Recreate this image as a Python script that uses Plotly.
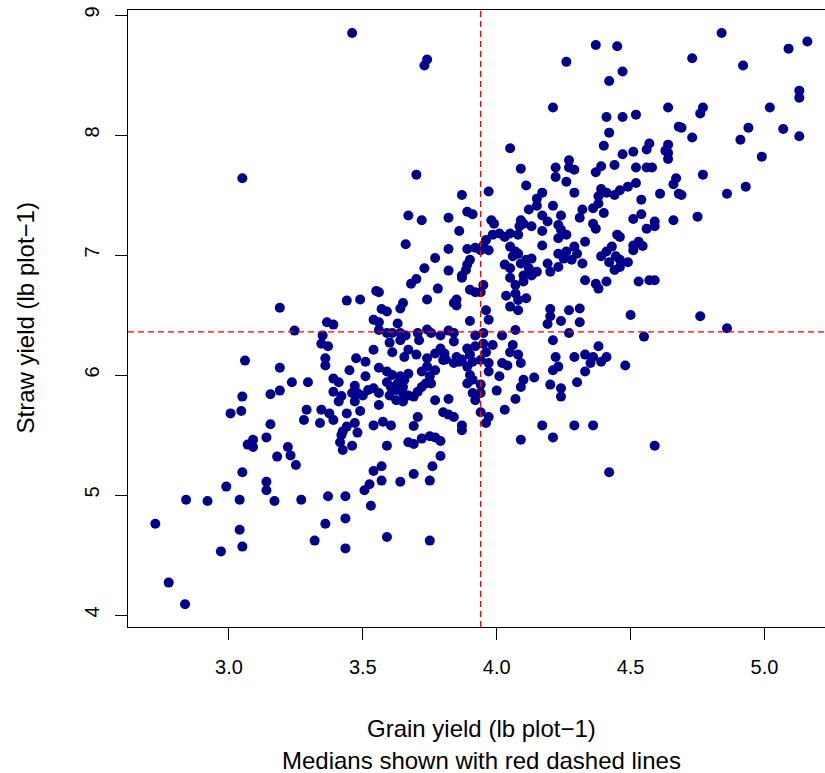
import plotly.graph_objects as go

# Grain yield (lb plot-1) and straw yield (lb plot-1)
grain = [
    3.05,
    3.46, 3.74, 3.73, 3.70, 3.87, 3.67, 3.72, 3.82, 3.89, 3.91,
    4.37, 4.45, 4.26, 4.47, 4.42, 4.21, 4.41, 4.47, 4.52, 4.42, 4.05, 4.40, 4.47, 4.51, 4.56, 4.57,
    4.09, 4.27, 4.22, 4.27, 4.29, 4.22, 4.39, 4.37, 4.44, 4.52, 4.56, 4.58, 4.11, 3.97, 4.26, 4.29,
    4.17, 4.15, 4.15, 4.21, 4.12, 4.39, 4.41, 4.44, 4.46, 4.49, 4.52, 4.38, 4.38, 4.36, 4.40, 4.54,
    4.32, 4.31, 4.17, 4.24, 4.09, 3.98, 4.54, 4.51,
    4.84, 5.16, 5.09, 4.73, 4.92, 5.13, 5.13, 4.64, 4.77, 4.76, 5.02, 4.68, 4.69, 4.94, 5.07, 4.73,
    4.91, 5.13, 4.64, 4.63, 4.64, 4.64, 4.99, 4.67, 4.66, 4.77, 4.61, 4.68, 4.69, 4.86, 4.93, 4.75, 4.66,
    4.59, 4.59, 4.59, 4.76, 4.86,
    4.59, 4.09, 4.21, 4.42,
    3.09, 3.07, 3.09, 3.14, 3.22, 3.23, 3.18, 3.25, 3.05, 2.99, 3.14, 3.14, 2.84, 2.92, 3.04, 3.17,
    3.27, 2.725, 3.04, 3.05, 2.97, 2.775, 2.836,
    3.425, 3.42, 3.415, 3.425, 3.46, 3.48, 3.59, 3.67, 3.69, 3.72, 3.75, 3.77, 3.79, 3.79, 3.76, 3.54,
    3.57, 3.57, 3.64, 3.69, 3.75, 3.525, 3.506, 3.37, 3.435, 3.53, 3.435, 3.36, 3.32, 3.435, 3.59, 3.75, 3.87,
    3.19, 3.245, 3.06, 3.19, 3.235, 3.05, 3.155, 3.19, 3.006, 3.046, 3.155,
    # dense middle-left block
    3.86, 3.66, 3.89, 3.92, 3.82, 3.77, 3.90, 3.89, 3.885, 3.87, 3.87, 3.73, 3.82, 3.70, 3.68, 3.78,
    3.90, 3.92, 3.55, 3.56, 3.44, 3.49, 3.74, 3.85, 3.84, 3.85, 3.65, 3.64, 3.57, 3.59, 3.54, 3.56,
    3.366, 3.39, 3.63, 3.90, 3.56, 3.59, 3.61, 3.64, 3.66, 3.705, 3.74, 3.755, 3.79, 3.82, 3.84, 3.92,
    3.35, 3.345, 3.37, 3.60, 3.64, 3.71, 3.84, 3.54, 3.61, 3.67, 3.655, 3.70, 3.74, 3.77, 3.79, 3.805,
    3.80, 3.85, 3.87, 3.90, 3.91, 3.89, 3.92, 3.36, 3.36, 3.475, 3.51, 3.45, 3.51, 3.56, 3.59, 3.61,
    3.64, 3.655, 3.67, 3.72, 3.74, 3.77, 3.75, 3.81, 3.84, 3.86, 3.89, 3.90, 3.91, 3.89, 3.295, 3.39,
    3.41, 3.39, 3.42, 3.41, 3.47, 3.46, 3.48, 3.50, 3.47, 3.52, 3.54, 3.56, 3.59, 3.605, 3.63, 3.65,
    3.625, 3.65, 3.67, 3.69, 3.705, 3.72, 3.735, 3.755, 3.60, 3.625, 3.65, 3.77, 3.82, 3.56, 3.29, 3.28,
    3.345, 3.375, 3.39, 3.44, 3.49, 3.34, 3.44, 3.47, 3.54, 3.575, 3.605, 3.69, 3.705, 3.80, 3.82, 3.84,
    3.87, 3.91, 3.92,
    # dense middle-right block
    3.99, 3.96, 3.985, 4.01, 4.03, 3.95, 3.94, 3.97, 4.05, 4.08, 4.085, 4.10, 4.13, 4.17, 4.19, 4.23,
    4.24, 4.23, 4.26, 4.33, 4.36, 4.37, 4.45, 4.46, 4.51, 4.53, 4.545, 4.51, 4.56, 4.17, 4.05, 4.07,
    4.08, 4.06, 4.03, 4.05, 4.09, 4.11, 4.13, 4.12, 4.15, 4.13, 4.10, 4.05, 4.07, 4.10, 4.07, 4.035,
    4.11, 4.08, 4.19, 4.20, 4.23, 4.23, 4.26, 4.29, 4.30, 4.32, 4.28, 4.25, 4.39, 4.42, 4.41, 4.43,
    4.445, 4.46, 4.49, 4.44, 4.46, 4.33, 4.37, 4.38, 4.41, 4.53, 4.57, 3.95, 3.94, 4.05, 4.08, 3.96,
    3.97, 4.20, 4.20, 4.19, 4.24, 4.27, 4.31, 4.31, 4.50, 4.27, 3.95, 4.02, 4.07, 4.55, 4.21, 3.95,
    3.985, 3.96, 3.94, 4.06, 4.05, 4.08, 4.09, 4.02, 4.04, 3.97, 3.97, 4.38, 4.29, 4.33, 4.36, 4.41,
    4.39, 4.22, 4.23, 4.21, 4.35, 4.33, 4.48, 4.01, 3.94, 3.94, 4.14, 4.10, 4.09, 4.20, 4.24, 4.24,
    4.30, 4.00, 4.07, 4.03, 3.94, 3.97, 3.96, 4.17, 4.29, 4.36,
]
straw = [
    7.64,
    8.85, 8.63, 8.58, 7.67, 7.50, 7.33, 7.29, 7.31, 7.36, 7.34,
    8.75, 8.74, 8.61, 8.53, 8.45, 8.23, 8.15, 8.15, 8.17, 8.02, 7.89, 7.91, 7.84, 7.86, 7.88, 7.93,
    7.72, 7.79, 7.73, 7.73, 7.71, 7.65, 7.74, 7.69, 7.75, 7.73, 7.73, 7.73, 7.58, 7.53, 7.61, 7.52,
    7.52, 7.47, 7.41, 7.41, 7.38, 7.55, 7.52, 7.50, 7.54, 7.57, 7.60, 7.49, 7.43, 7.39, 7.35, 7.46,
    7.38, 7.31, 7.33, 7.33, 7.29, 7.29, 7.34, 7.30,
    8.85, 8.78, 8.72, 8.64, 8.58, 8.37, 8.31, 8.23, 8.23, 8.18, 8.23, 8.07, 8.06, 8.06, 8.05, 7.98,
    7.96, 7.99, 7.92, 7.87, 7.85, 7.80, 7.82, 7.64, 7.59, 7.67, 7.51, 7.51, 7.50, 7.51, 7.57, 7.32, 7.29,
    7.24, 7.28, 6.79, 6.49, 6.39,
    5.41, 5.46, 5.48, 5.19,
    5.46, 5.42, 5.40, 5.48, 5.40, 5.33, 5.32, 5.25, 5.19, 5.07, 5.11, 5.04, 4.96, 4.95, 4.96, 4.95,
    4.96, 4.76, 4.71, 4.57, 4.53, 4.27, 4.09,
    5.53, 5.50, 5.44, 5.375, 5.41, 5.52, 5.41, 5.44, 5.425, 5.47, 5.49, 5.48, 5.45, 5.325, 5.24, 5.20,
    5.24, 5.12, 5.11, 5.175, 5.12, 5.09, 5.04, 4.99, 4.99, 4.91, 4.805, 4.76, 4.62, 4.555, 4.65, 4.62, 5.54,
    6.56, 6.37, 6.12, 6.06, 5.94, 5.82, 5.84, 5.87, 5.68, 5.70, 5.59,
    # dense middle-left block
    7.20, 7.09, 7.05, 7.06, 7.05, 6.975, 6.96, 6.92, 6.875, 6.83, 6.81, 6.89, 6.87, 6.80, 6.76, 6.72,
    6.71, 6.69, 6.70, 6.69, 6.62, 6.63, 6.63, 6.63, 6.60, 6.58, 6.60, 6.555, 6.55, 6.53, 6.46, 6.44,
    6.44, 6.42, 6.43, 6.45, 6.375, 6.35, 6.35, 6.35, 6.33, 6.35, 6.38, 6.35, 6.33, 6.37, 6.35, 6.33,
    6.33, 6.26, 6.24, 6.27, 6.29, 6.29, 6.28, 6.21, 6.19, 6.21, 6.15, 6.17, 6.14, 6.18, 6.22, 6.18,
    6.125, 6.15, 6.13, 6.17, 6.11, 6.22, 6.24, 6.14, 6.08, 6.14, 6.11, 6.04, 5.99, 6.06, 6.03, 6.00,
    5.99, 5.96, 6.01, 6.03, 6.07, 6.04, 5.99, 6.13, 6.10, 6.11, 6.07, 6.00, 5.96, 5.93, 5.94, 5.97,
    5.94, 5.86, 5.825, 5.78, 5.91, 5.85, 5.85, 5.83, 5.78, 5.875, 5.89, 5.85, 5.94, 5.90, 5.93, 5.90,
    5.875, 5.85, 5.83, 5.82, 5.86, 5.90, 5.93, 5.93, 5.83, 5.79, 5.78, 5.79, 5.80, 5.75, 5.71, 5.625,
    5.71, 5.68, 5.625, 5.68, 5.70, 5.60, 5.57, 5.60, 5.58, 5.61, 5.58, 5.575, 5.65, 5.69, 5.67, 5.65,
    5.58, 5.85, 5.79,
    # dense middle-right block
    7.26, 7.125, 7.17, 7.18, 7.15, 7.08, 7.04, 7.04, 7.18, 7.17, 7.24, 7.26, 7.24, 7.20, 7.28, 7.25,
    7.21, 7.14, 7.17, 7.11, 7.26, 7.22, 7.17, 7.15, 7.08, 7.11, 7.075, 7.04, 7.22, 7.08, 7.07, 7.03,
    7.01, 6.99, 6.92, 6.89, 6.93, 6.96, 6.97, 6.89, 6.86, 6.83, 6.83, 6.81, 6.75, 6.78, 6.68, 6.66,
    6.64, 6.625, 6.93, 6.86, 6.90, 7.01, 7.03, 7.07, 7.01, 6.93, 6.96, 6.97, 6.99, 6.94, 7.03, 7.07,
    6.99, 6.96, 6.94, 6.875, 6.90, 6.79, 6.76, 6.72, 6.78, 6.78, 6.79, 6.75, 6.69, 6.57, 6.54, 6.54,
    6.46, 6.55, 6.49, 6.425, 6.45, 6.54, 6.555, 6.44, 6.50, 6.35, 6.35, 6.33, 6.375, 6.32, 6.29, 6.26,
    6.25, 6.19, 6.125, 6.25, 6.19, 6.17, 6.10, 6.10, 6.08, 6.10, 6.03, 6.24, 6.15, 6.17, 6.15, 6.15,
    6.11, 6.15, 6.07, 6.04, 6.10, 6.03, 6.08, 5.99, 5.92, 5.85, 5.98, 5.96, 5.90, 5.92, 5.89, 5.82,
    5.94, 5.87, 5.80, 5.71, 5.69, 5.65, 5.60, 5.58, 5.58, 5.58,
]

grain_median = 3.94
straw_median = 6.36

x_ticks = [3.0, 3.5, 4.0, 4.5, 5.0]
x_tick_labels = ["3.0", "3.5", "4.0", "4.5", "5.0"]
y_ticks = [4, 5, 6, 7, 8, 9]
y_tick_labels = ["4", "5", "6", "7", "8", "9"]

x_title = "Grain yield (lb plot\u22121)"
x_subtitle = "Medians shown with red dashed lines"
y_title = "Straw yield (lb plot\u22121)"

FONT = "Liberation Sans, Arial, Helvetica, sans-serif"
TITLE_SIZE = 24
TICK_SIZE = 20

fig = go.Figure()
fig.add_trace(go.Scatter(
    x=grain, y=straw, mode="markers",
    marker=dict(color="#00008B", size=10, line=dict(width=0)),
    showlegend=False, hoverinfo="x+y",
))

# Median lines
fig.add_shape(type="line", xref="x", yref="paper", x0=grain_median, x1=grain_median, y0=0, y1=1,
              line=dict(color="#FF0000", width=1.3, dash="6px,4px"), layer="above")
fig.add_shape(type="line", xref="paper", yref="y", x0=0, x1=1, y0=straw_median, y1=straw_median,
              line=dict(color="#FF0000", width=1.3, dash="6px,4px"), layer="above")

fig.update_layout(
    width=825, height=773,
    margin=dict(l=128, r=0, t=10, b=146, autoexpand=False),
    paper_bgcolor="white", plot_bgcolor="white",
    font=dict(family=FONT, size=TICK_SIZE, color="black"),
    xaxis=dict(
        range=[2.623, 5.226], tickmode="array", tickvals=x_ticks, ticktext=x_tick_labels,
        ticks="outside", ticklen=12, tickwidth=1, tickcolor="black",
        showline=True, linecolor="black", linewidth=1, mirror=True,
        showgrid=False, zeroline=False, ticklabelstandoff=10,
        tickfont=dict(size=TICK_SIZE, family=FONT),
    ),
    yaxis=dict(
        range=[3.9, 9.042], tickmode="array", tickvals=y_ticks, ticktext=y_tick_labels,
        ticks="outside", ticklen=12, tickwidth=1, tickcolor="black",
        showline=True, linecolor="black", linewidth=1, mirror=False,
        showgrid=False, zeroline=False, tickangle=-90, ticklabelstandoff=8,
        tickfont=dict(size=TICK_SIZE, family=FONT),
    ),
    annotations=[
        dict(text=x_title, xref="paper", yref="paper", x=0.5072, y=(627 - 728) / 617,
             xanchor="center", yanchor="middle", showarrow=False,
             font=dict(size=TITLE_SIZE, family=FONT)),
        dict(text=x_subtitle, xref="paper", yref="paper", x=0.5072, y=(627 - 760) / 617,
             xanchor="center", yanchor="middle", showarrow=False,
             font=dict(size=TITLE_SIZE, family=FONT)),
        dict(text=y_title, xref="paper", yref="paper", x=(25 - 128) / 697, y=0.5,
             xanchor="center", yanchor="middle", textangle=-90, showarrow=False,
             font=dict(size=TITLE_SIZE, family=FONT)),
    ],
)

fig.write_html(
    "out.html",
    config={"displayModeBar": False},
    post_script="document.body.style.margin='0';document.body.style.padding='0';"
                "document.body.style.overflow='hidden';",
)
